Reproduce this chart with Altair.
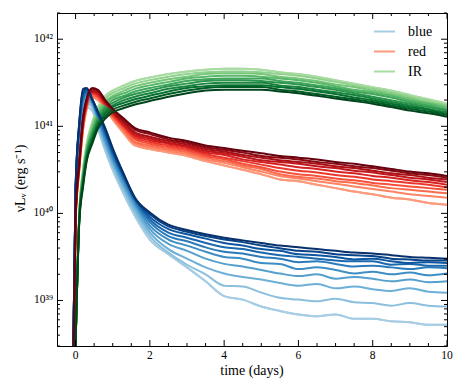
import altair as alt
import pandas as pd

# time grid (days)
T = [-0.1, 0.0, 0.1, 0.2, 0.3, 0.45, 0.6, 0.8, 1.0, 1.3, 1.6, 2.0, 2.5, 3.0, 3.5,
     4.0, 4.5, 5.0, 5.5, 6.0, 6.5, 7.0, 7.5, 8.0, 8.5, 9.0, 9.5, 10.0]

# log10(nu L_nu) for each model, lightest (index 0) to darkest (index 9)
BLUE_LOG = [
    [37.3, 40.20, 40.85, 41.12, 41.22, 41.18, 40.98, 40.72, 40.50, 40.22, 39.97, 39.70,
     39.53, 39.38, 39.22, 39.05, 39.01, 38.93, 38.88, 38.84, 38.82, 38.84, 38.79, 38.79, 38.76, 38.75, 38.72, 38.72],
    [37.3, 40.20, 40.88, 41.16, 41.26, 41.22, 41.02, 40.76, 40.54, 40.26, 40.01, 39.74,
     39.55, 39.41, 39.30, 39.17, 39.16, 39.09, 39.03, 39.01, 38.99, 39.02, 38.98, 38.97, 38.94, 38.97, 38.94, 38.93],
    [37.3, 40.22, 40.90, 41.20, 41.29, 41.25, 41.05, 40.80, 40.58, 40.30, 40.05, 39.78,
     39.59, 39.48, 39.38, 39.31, 39.27, 39.24, 39.20, 39.17, 39.19, 39.14, 39.16, 39.13, 39.11, 39.14, 39.10, 39.09],
    [37.3, 40.23, 40.92, 41.24, 41.32, 41.27, 41.08, 40.83, 40.61, 40.33, 40.09, 39.82,
     39.65, 39.57, 39.48, 39.42, 39.39, 39.35, 39.31, 39.28, 39.30, 39.25, 39.27, 39.25, 39.22, 39.24, 39.21, 39.22],
    [37.3, 40.24, 40.95, 41.28, 41.35, 41.28, 41.10, 40.86, 40.64, 40.36, 40.12, 39.86,
     39.70, 39.63, 39.56, 39.50, 39.48, 39.43, 39.42, 39.36, 39.38, 39.35, 39.31, 39.33, 39.30, 39.32, 39.29, 39.31],
    [37.3, 40.25, 40.97, 41.31, 41.37, 41.29, 41.12, 40.89, 40.67, 40.39, 40.14, 39.90,
     39.74, 39.68, 39.61, 39.56, 39.54, 39.50, 39.48, 39.44, 39.45, 39.42, 39.39, 39.40, 39.38, 39.36, 39.38, 39.37],
    [37.3, 40.26, 40.99, 41.34, 41.39, 41.30, 41.14, 40.92, 40.69, 40.41, 40.16, 39.93,
     39.78, 39.72, 39.66, 39.61, 39.59, 39.55, 39.52, 39.50, 39.48, 39.46, 39.45, 39.45, 39.41, 39.42, 39.40, 39.40],
    [37.3, 40.27, 41.01, 41.37, 41.41, 41.31, 41.15, 40.94, 40.71, 40.43, 40.17, 39.96,
     39.82, 39.76, 39.71, 39.66, 39.63, 39.59, 39.57, 39.53, 39.52, 39.50, 39.47, 39.48, 39.45, 39.43, 39.44, 39.43],
    [37.3, 40.28, 41.03, 41.40, 41.43, 41.31, 41.16, 40.96, 40.73, 40.44, 40.17, 39.99,
     39.85, 39.79, 39.74, 39.70, 39.67, 39.63, 39.60, 39.57, 39.56, 39.53, 39.52, 39.51, 39.48, 39.47, 39.46, 39.46],
    [37.3, 40.30, 41.05, 41.43, 41.44, 41.31, 41.17, 40.98, 40.75, 40.45, 40.18, 40.01,
     39.87, 39.81, 39.76, 39.72, 39.69, 39.66, 39.63, 39.61, 39.59, 39.57, 39.55, 39.54, 39.52, 39.50, 39.49, 39.48],
]

RED_LOG = [
    [37.0, 39.90, 40.50, 40.95, 41.20, 41.33, 41.30, 41.20, 41.08, 40.92, 40.78, 40.74, 40.70, 40.66,
     40.60, 40.55, 40.50, 40.45, 40.39, 40.37, 40.33, 40.29, 40.25, 40.22, 40.18, 40.16, 40.12, 40.10],
    [37.0, 39.91, 40.51, 40.97, 41.21, 41.34, 41.31, 41.21, 41.09, 40.94, 40.80, 40.76, 40.72, 40.68,
     40.62, 40.58, 40.53, 40.48, 40.43, 40.40, 40.37, 40.34, 40.31, 40.28, 40.25, 40.22, 40.20, 40.18],
    [37.0, 39.92, 40.52, 40.98, 41.23, 41.35, 41.33, 41.22, 41.11, 40.96, 40.82, 40.78, 40.74, 40.70,
     40.64, 40.60, 40.55, 40.51, 40.45, 40.42, 40.40, 40.37, 40.35, 40.32, 40.29, 40.27, 40.25, 40.23],
    [37.0, 39.93, 40.53, 41.00, 41.24, 41.37, 41.34, 41.23, 41.12, 40.98, 40.85, 40.80, 40.76, 40.72,
     40.66, 40.62, 40.57, 40.53, 40.48, 40.45, 40.43, 40.40, 40.38, 40.35, 40.33, 40.31, 40.29, 40.27],
    [37.0, 39.94, 40.54, 41.02, 41.25, 41.38, 41.35, 41.24, 41.13, 41.00, 40.87, 40.82, 40.78, 40.74,
     40.68, 40.64, 40.60, 40.56, 40.52, 40.49, 40.47, 40.44, 40.42, 40.39, 40.37, 40.35, 40.33, 40.30],
    [37.0, 39.95, 40.55, 41.03, 41.27, 41.39, 41.37, 41.26, 41.15, 41.01, 40.89, 40.84, 40.80, 40.76,
     40.70, 40.67, 40.62, 40.59, 40.56, 40.53, 40.51, 40.48, 40.46, 40.43, 40.41, 40.38, 40.36, 40.33],
    [37.0, 39.96, 40.56, 41.05, 41.28, 41.40, 41.38, 41.27, 41.16, 41.03, 40.91, 40.86, 40.81, 40.77,
     40.72, 40.69, 40.65, 40.61, 40.59, 40.57, 40.54, 40.52, 40.49, 40.47, 40.44, 40.41, 40.39, 40.36],
    [37.0, 39.97, 40.57, 41.07, 41.29, 41.41, 41.39, 41.28, 41.17, 41.05, 40.93, 40.88, 40.83, 40.79,
     40.74, 40.71, 40.67, 40.64, 40.61, 40.59, 40.57, 40.54, 40.52, 40.49, 40.46, 40.44, 40.41, 40.39],
    [37.0, 39.98, 40.58, 41.08, 41.31, 41.43, 41.41, 41.29, 41.19, 41.07, 40.96, 40.91, 40.85, 40.81,
     40.76, 40.73, 40.70, 40.66, 40.64, 40.62, 40.59, 40.57, 40.54, 40.52, 40.49, 40.46, 40.44, 40.41],
    [37.0, 40.00, 40.60, 41.10, 41.32, 41.44, 41.42, 41.30, 41.20, 41.09, 40.98, 40.93, 40.87, 40.83,
     40.78, 40.75, 40.72, 40.69, 40.66, 40.64, 40.62, 40.59, 40.57, 40.54, 40.51, 40.48, 40.46, 40.43],
]

IR_LOG = [
    [36.5, 38.5, 40.00, 40.50, 40.80, 41.05, 41.22, 41.35, 41.41, 41.47, 41.52, 41.56, 41.60, 41.63,
     41.65, 41.66, 41.66, 41.65, 41.62, 41.60, 41.57, 41.53, 41.49, 41.45, 41.41, 41.36, 41.31, 41.26],
    [36.5, 38.5, 39.99, 40.48, 40.78, 41.02, 41.19, 41.32, 41.38, 41.44, 41.49, 41.53, 41.57, 41.60,
     41.62, 41.63, 41.63, 41.62, 41.60, 41.58, 41.55, 41.51, 41.47, 41.43, 41.39, 41.34, 41.29, 41.24],
    [36.5, 38.5, 39.98, 40.46, 40.75, 40.99, 41.16, 41.29, 41.35, 41.41, 41.46, 41.50, 41.54, 41.57,
     41.60, 41.61, 41.61, 41.60, 41.57, 41.55, 41.52, 41.48, 41.45, 41.41, 41.37, 41.32, 41.27, 41.23],
    [36.5, 38.5, 39.97, 40.44, 40.73, 40.96, 41.13, 41.26, 41.33, 41.38, 41.43, 41.47, 41.51, 41.55,
     41.57, 41.58, 41.58, 41.57, 41.55, 41.53, 41.50, 41.46, 41.42, 41.39, 41.35, 41.30, 41.26, 41.21],
    [36.5, 38.5, 39.96, 40.42, 40.71, 40.93, 41.10, 41.23, 41.30, 41.35, 41.40, 41.44, 41.48, 41.52,
     41.54, 41.55, 41.55, 41.55, 41.52, 41.50, 41.47, 41.44, 41.40, 41.37, 41.33, 41.28, 41.24, 41.19],
    [36.5, 38.5, 39.95, 40.40, 40.69, 40.91, 41.07, 41.21, 41.27, 41.33, 41.37, 41.41, 41.46, 41.49,
     41.52, 41.53, 41.53, 41.52, 41.50, 41.48, 41.45, 41.42, 41.38, 41.34, 41.30, 41.26, 41.22, 41.18],
    [36.5, 38.5, 39.94, 40.38, 40.67, 40.88, 41.05, 41.18, 41.24, 41.30, 41.34, 41.38, 41.43, 41.46,
     41.49, 41.50, 41.50, 41.50, 41.47, 41.45, 41.42, 41.39, 41.36, 41.32, 41.28, 41.24, 41.20, 41.16],
    [36.5, 38.5, 39.93, 40.35, 40.64, 40.85, 41.02, 41.15, 41.22, 41.27, 41.31, 41.35, 41.40, 41.44,
     41.46, 41.47, 41.47, 41.47, 41.45, 41.43, 41.40, 41.37, 41.33, 41.30, 41.26, 41.22, 41.19, 41.14],
    [36.5, 38.5, 39.92, 40.33, 40.62, 40.83, 41.00, 41.12, 41.19, 41.24, 41.28, 41.32, 41.37, 41.41,
     41.44, 41.45, 41.45, 41.45, 41.42, 41.40, 41.37, 41.34, 41.31, 41.28, 41.24, 41.20, 41.17, 41.13],
    [36.5, 38.5, 39.90, 40.30, 40.60, 40.80, 40.97, 41.09, 41.16, 41.21, 41.25, 41.29, 41.34, 41.38,
     41.41, 41.42, 41.42, 41.42, 41.40, 41.38, 41.35, 41.32, 41.29, 41.26, 41.22, 41.18, 41.15, 41.11],
]

FAMILIES = ["blue", "red", "IR"]

# axis ticks and labels
X_MAJOR = [0, 2, 4, 6, 8, 10]
X_LABELS = ["0", "2", "4", "6", "8", "10"]
X_MINOR = [0.5, 1, 1.5, 2.5, 3, 3.5, 4.5, 5, 5.5, 6.5, 7, 7.5, 8.5, 9, 9.5]
Y_MAJOR = [1e39, 1e40, 1e41, 1e42]
Y_LABELS = ["10\u00b3\u2079", "10\u2074\u2070", "10\u2074\u00b9", "10\u2074\u00b2"]
Y_MINOR = [3e38, 4e38, 5e38, 6e38, 7e38, 8e38, 9e38,
           2e39, 3e39, 4e39, 5e39, 6e39, 7e39, 8e39, 9e39,
           2e40, 3e40, 4e40, 5e40, 6e40, 7e40, 8e40, 9e40,
           2e41, 3e41, 4e41, 5e41, 6e41, 7e41, 8e41, 9e41, 2e42]
X_TITLE = "time (days)"
Y_TITLE = "\u03bdL\u1d65 (erg s\u207b\u00b9)"

# styles
BLUE_COLORS = ["#a6cde4", "#8bbfdd", "#6dafd7", "#559fcd", "#3e8ec4",
               "#2b7bba", "#1a68ae", "#0c56a0", "#084387", "#08306b"]
RED_COLORS = ["#fc9a7b", "#fc8363", "#fb6c4c", "#f5513a", "#eb372a",
              "#d62322", "#c1161b", "#ab1016", "#8b0912", "#67000d"]
IR_COLORS = ["#a9dca2", "#90d18d", "#76c578", "#59b769", "#3ea75a",
             "#2c954c", "#1a833e", "#067230", "#005c25", "#00441b"]

FONT = "Liberation Serif"
W, H = 390, 333

logs_by_family = [BLUE_LOG, RED_LOG, IR_LOG]
colors_by_family = [BLUE_COLORS, RED_COLORS, IR_COLORS]

rows = []
series_ids, series_colors = [], []
for i in range(10):
    for f, fam in enumerate(FAMILIES):
        sid = f"{i:02d}{'abc'[f]}"
        series_ids.append(sid)
        series_colors.append(colors_by_family[f][i])
        for t, v in zip(T, logs_by_family[f][i]):
            rows.append({"t": t, "L": 10.0 ** v, "series": sid, "family": fam, "shade": i})
df = pd.DataFrame(rows)
legend_df = df[df["shade"] == 0]

xscale = alt.Scale(domain=[-0.5, 10], nice=False, zero=False)
yscale = alt.Scale(type="log", domain=[3e38, 2e42], nice=False)

X = alt.X("t:Q", scale=xscale, axis=None)
Y = alt.Y("L:Q", scale=yscale, axis=None)

legend_layer = alt.Chart(legend_df).mark_line(
    strokeWidth=2, clip=True, interpolate="monotone"
).encode(
    x=X, y=Y,
    color=alt.Color("family:N",
                    scale=alt.Scale(domain=FAMILIES,
                                    range=[BLUE_COLORS[0], RED_COLORS[0], IR_COLORS[0]]),
                    legend=alt.Legend(orient="none", legendX=316, legendY=7, title=None,
                                      symbolType="stroke", symbolStrokeWidth=2, symbolSize=441,
                                      labelFont=FONT, labelFontSize=14, labelColor="black",
                                      labelFontWeight="normal",
                                      labelOffset=12, rowPadding=1, padding=0)),
    detail="series:N",
)

main_layer = alt.Chart(df).mark_line(
    strokeWidth=2, clip=True, strokeJoin="round", interpolate="monotone"
).encode(
    x=X, y=Y,
    color=alt.Color("series:N", scale=alt.Scale(domain=series_ids, range=series_colors),
                    legend=None),
)

# inward tick marks on all four sides (matplotlib-style)
xt_major = pd.DataFrame({"t": X_MAJOR, "label": X_LABELS})
xt_minor = pd.DataFrame({"t": X_MINOR})
yt_major = pd.DataFrame({"L": Y_MAJOR, "label": Y_LABELS})
yt_minor = pd.DataFrame({"L": Y_MINOR})


def xticks(data, y0, y1):
    return alt.Chart(data).mark_rule(color="black", strokeWidth=1).encode(
        x=X, y=alt.value(y0), y2=alt.value(y1))


def yticks(data, x0, x1):
    return alt.Chart(data).mark_rule(color="black", strokeWidth=1).encode(
        y=Y, x=alt.value(x0), x2=alt.value(x1))


tick_layers = [
    xticks(xt_major, H, H - 6), xticks(xt_minor, H, H - 3),
    xticks(xt_major, 0, 6), xticks(xt_minor, 0, 3),
    yticks(yt_major, 0, 6), yticks(yt_minor, 0, 3),
    yticks(yt_major, W, W - 6), yticks(yt_minor, W, W - 3),
]

x_labels = alt.Chart(xt_major).mark_text(
    font=FONT, fontSize=11.5, fontWeight="normal", baseline="top", align="center",
    color="black"
).encode(x=X, y=alt.value(H + 4), text="label:N")

y_labels = alt.Chart(yt_major).mark_text(
    font=FONT, fontSize=11.5, fontWeight="normal", baseline="middle", align="right",
    color="black"
).encode(y=Y, x=alt.value(-4), text="label:N")

x_title = alt.Chart(pd.DataFrame({"title": [X_TITLE]})).mark_text(
    font=FONT, fontSize=14, fontWeight="normal", baseline="top", align="center",
    color="black"
).encode(x=alt.value(W / 2), y=alt.value(H + 18), text="title:N")

y_title = alt.Chart(pd.DataFrame({"title": [Y_TITLE]})).mark_text(
    font=FONT, fontSize=14, fontWeight="normal", baseline="middle", align="center",
    angle=270, color="black"
).encode(x=alt.value(-36), y=alt.value(H / 2 - 1), text="title:N")

chart = alt.layer(legend_layer, main_layer, *tick_layers,
                  x_labels, y_labels, x_title, y_title).resolve_scale(
    color="independent"
).properties(
    width=W, height=H,
    padding={"left": 49, "top": 5, "right": 6, "bottom": 34},
    autosize=alt.AutoSizeParams(type="none"),
).configure(font=FONT).configure_view(stroke="black", strokeWidth=1)

chart.save("out.html", embed_options={"renderer": "svg", "actions": False})
